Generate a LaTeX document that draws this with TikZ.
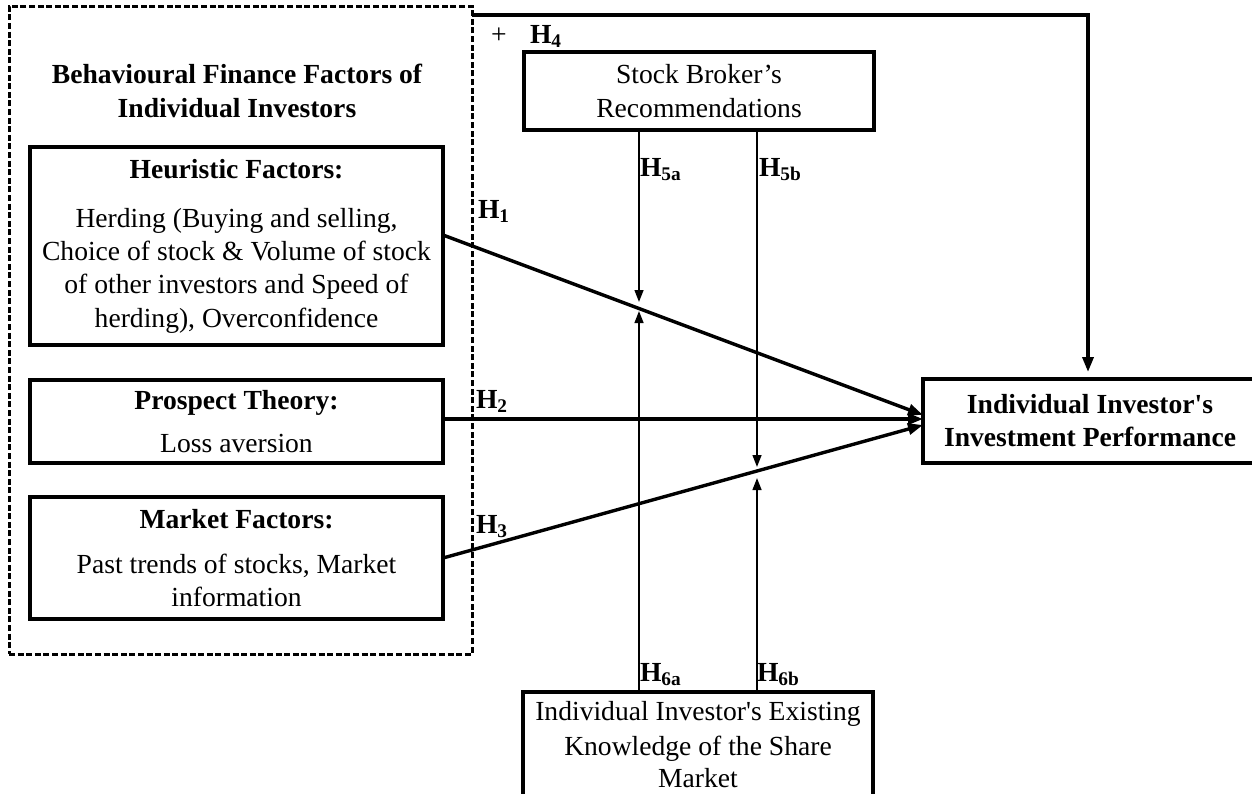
\documentclass[tikz,border=0pt]{standalone}
\usepackage{fontspec}
\setmainfont{Liberation Serif}
\usetikzlibrary{arrows.meta,calc}
\tikzset{
  txt/.style={anchor=base, inner sep=0pt, outer sep=0pt, font=\fontsize{13.8}{16}\selectfont},
  btxt/.style={txt, font=\fontsize{13.8}{16}\selectfont\bfseries},
  hlab/.style={anchor=base west, inner sep=0pt, outer sep=0pt, font=\fontsize{13.8}{16}\selectfont\bfseries},
  boxnode/.style={draw, line width=1.6pt, inner sep=0pt, outer sep=0pt},
  groupbox/.style={draw, line width=1.5pt, dash pattern=on 3pt off 1.3pt, inner sep=0pt, outer sep=0pt},
  thickarrow/.style={line width=1.7pt, -{Triangle[length=7.5pt,width=5.5pt]}},
  thinarrow/.style={line width=1pt, -{Triangle[length=6pt,width=4.4pt]}}
}
\begin{document}
\begin{tikzpicture}[x=0.5pt,y=-0.5pt]
\useasboundingbox (0,0) rectangle (1252,793);
\fill[white] (0,0) rectangle (1252,793);

% group box
\node[groupbox, minimum width=231.5pt, minimum height=324pt] (bff) at (240.5,330) {};
\node[btxt] (t1) at (237,83) {Behavioural Finance Factors of};
\node[btxt] (t2) at (237,117) {Individual Investors};

% heuristic
\node[boxnode, minimum width=206.5pt, minimum height=99pt] (heur) at (236.5,246) {};
\node[btxt] (h0) at (236.5,178) {Heuristic Factors:};
\node[txt] (ha) at (236.5,227) {Herding (Buying and selling,};
\node[txt] (hb) at (236.5,260) {Choice of stock \& Volume of stock};
\node[txt] (hc) at (236.5,293) {of other investors and Speed of};
\node[txt] (hd) at (236.5,327) {herding), Overconfidence};

% prospect
\node[boxnode, minimum width=206.5pt, minimum height=41.5pt] (pros) at (236.5,421.5) {};
\node[btxt] (p0) at (236.5,409) {Prospect Theory:};
\node[txt] (pa) at (236.5,452) {Loss aversion};

% market
\node[boxnode, minimum width=206.5pt, minimum height=61pt] (mkt) at (236.5,558) {};
\node[btxt] (m0) at (236.5,528) {Market Factors:};
\node[txt] (ma) at (236.5,573) {Past trends of stocks, Market};
\node[txt] (mb) at (236.5,606) {information};

% stock broker
\node[boxnode, minimum width=175pt, minimum height=39pt] (sb) at (699,91) {};
\node[txt] (s1) at (699,83) {Stock Broker’s};
\node[txt] (s2) at (699,117) {Recommendations};

% performance (right side runs past the page edge)
\node[boxnode, minimum width=190pt, minimum height=42pt] (perf) at (1113,421) {};
\node[btxt] (f1) at (1090,413) {Individual Investor\textquotesingle s};
\node[btxt] (f2) at (1090,446) {Investment Performance};

% knowledge
\node[boxnode, minimum width=175pt, minimum height=54pt] (kn) at (698,746) {};
\node[txt] (k1) at (698,720) {Individual Investor\textquotesingle s Existing};
\node[txt] (k2) at (698,755) {Knowledge of the Share};
\node[txt] (k3) at (698,787) {Market};

% main arrows
\draw[thickarrow] ([yshift=5.5pt]heur.east) -- ([yshift=3pt]perf.west);
\draw[thickarrow] ([yshift=1.25pt]pros.east) -- ([yshift=1pt]perf.west);
\draw[thickarrow] (mkt.east) -- ([yshift=-2pt]perf.west);

% H4
\coordinate (h4x) at (1088,372);
\draw[thickarrow] ([yshift=-4.5pt]bff.north east) -| (h4x);

% moderators
\coordinate (m5a) at (639,302);
\coordinate (m6a) at (639,311);
\coordinate (m5b) at (757,467);
\coordinate (m6b) at (757,478);
\draw[thinarrow] (m5a |- sb.south) -- (m5a);
\draw[thinarrow] (m5b |- sb.south) -- (m5b);
\draw[thinarrow] (m6a |- kn.north) -- (m6a);
\draw[thinarrow] (m6b |- kn.north) -- (m6b);

% labels
\node[txt] (plus) at (499,43) {+};
\node[hlab] (lh4) at (530,43) {H\textsubscript{4}};
\node[hlab] (lh1) at (478,218) {H\textsubscript{1}};
\node[hlab] (lh2) at (476,408) {H\textsubscript{2}};
\node[hlab] (lh3) at (476,533) {H\textsubscript{3}};
\node[hlab] (lh5a) at (640,176) {H\textsubscript{5a}};
\node[hlab] (lh5b) at (759,176) {H\textsubscript{5b}};
\node[hlab] (lh6a) at (640,681) {H\textsubscript{6a}};
\node[hlab] (lh6b) at (757,681) {H\textsubscript{6b}};
\end{tikzpicture}
\end{document}
